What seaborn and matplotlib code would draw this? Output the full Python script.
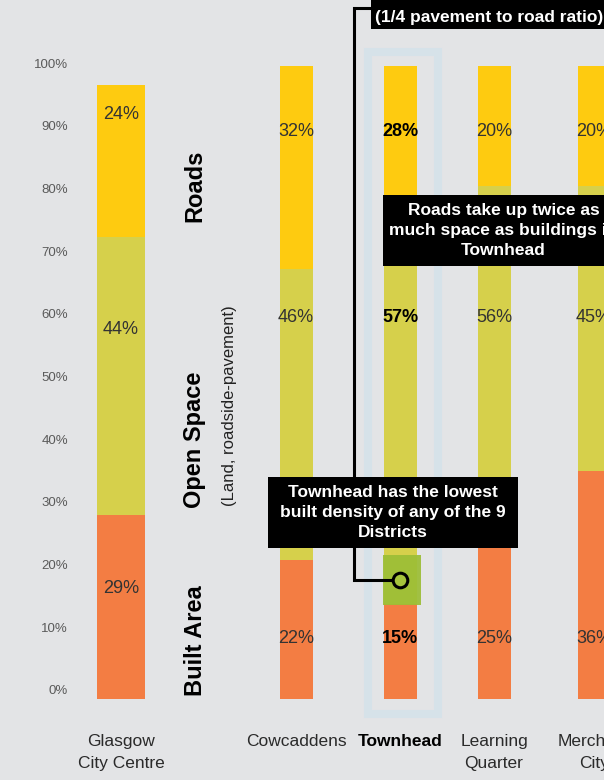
import numpy as np
import pandas as pd
import matplotlib.pyplot as plt
import seaborn as sns
from matplotlib.patches import Rectangle

# Data (share of land, %)
districts = ['Glasgow\nCity Centre', 'Cowcaddens', 'Townhead', 'Learning\nQuarter', 'Merchant\nCity']
built = [29, 22, 15, 25, 36]
open_space = [44, 46, 57, 56, 45]
roads = [24, 32, 28, 20, 20]
tick_values = [0, 10, 20, 30, 40, 50, 60, 70, 80, 90, 100]

layer_names = ['Built Area', 'Open Space', 'Roads']
layer_note = '(Land, roadside-pavement)'
note_lowest = 'Townhead has the lowest\nbuilt density of any of the 9\nDistricts'
note_roads = 'Roads take up twice as\nmuch space as buildings in\nTownhead'
note_ratio = '(1/4 pavement to road ratio)'
highlight = 'Townhead'

# Layout (x in units of 100 px, Glasgow at 0)
x_pos = [0, 1.75, 2.79, 3.73, 4.73]
bar_width = [0.48, 0.33, 0.33, 0.33, 0.33]
label_rows = [(17.5, 58.3, 92.3)] + [(9.6, 60.2, 89.7)] * 4

BG = '#e3e4e6'
C_ROAD = '#fecb10'
C_OPEN = '#d6d04b'
C_BUILT = '#f37d43'

sns.set_theme(style='white')
plt.rcParams['font.family'] = ['Liberation Sans', 'DejaVu Sans']

df = pd.DataFrame({'district': districts, 'x': x_pos, 'built': built,
                   'open': open_space, 'roads': roads})
df['top_open'] = df['built'] + df['open']
df['top_roads'] = df['top_open'] + df['roads']

fig = plt.figure(figsize=(6.04, 7.8), dpi=100)
fig.patch.set_facecolor(BG)
ax = fig.add_axes([0, 81 / 780, 1, 633 / 780])
ax.set_facecolor(BG)

# Townhead frame
th = districts.index(highlight)
ax.add_patch(Rectangle((x_pos[th] - 0.325, -2.37), 0.70, 104.6, fill=False,
                       ec='#d6e2e9', lw=5.8, zorder=0.5, clip_on=False))

# stacked bars: cumulative tops drawn first, then overlaid
groups = [df.iloc[[0]], df.iloc[1:]]
for g in groups:
    w = bar_width[g.index[0]]
    native = np.min(np.diff(g['x'])) if len(g) > 1 else 1
    for col, c in [('top_roads', C_ROAD), ('top_open', C_OPEN), ('built', C_BUILT)]:
        sns.barplot(data=g, x='x', y=col, native_scale=True, width=w / native,
                    color=c, saturation=1, errorbar=None, linewidth=0, ax=ax,
                    zorder=2)

# segment percentages
for i, row in df.iterrows():
    bold = row['district'] == highlight
    for val, y in zip([row['built'], row['open'], row['roads']], label_rows[i]):
        ax.text(row['x'], y, f'{val}%', ha='center', va='center', fontsize=13,
                color='black' if bold else '#333333',
                fontweight='bold' if bold else 'normal', zorder=5)

# category labels
for i, name in enumerate(districts):
    bold = name == highlight
    ax.text(x_pos[i], -5.6, name, ha='center', va='top', fontsize=12.5,
            linespacing=1.55, color='black' if bold else '#2a2a2a',
            fontweight='bold' if bold else 'normal')

# y tick labels
for v in tick_values:
    ax.text(-0.53, v * 0.99 + 1.2, f'{v}%', ha='right', va='center', fontsize=9.5,
            color='#5a5a5a')

# rotated layer names
for name, y in zip(layer_names, [9.2, 40.9, 81.0]):
    ax.text(0.74, y, name, rotation=90, ha='center', va='center',
            fontsize=17, fontweight='bold', color='black')
ax.text(1.08, 46.4, layer_note, rotation=90, ha='center', va='center',
        fontsize=12, color='#222222')

# highlight of Townhead built area + connector
ax.add_patch(Rectangle((x_pos[th] - 0.17, 14.85), 0.38, 7.9, fc='#9cbe36',
                       alpha=0.93, lw=0, zorder=3))
ax.plot([2.50, 2.33, 2.33, 2.72], [109.2, 109.2, 18.8, 18.8], color='black',
        lw=2.2, clip_on=False, zorder=4, solid_joinstyle='miter')
ax.plot([x_pos[th]], [18.8], marker='o', ms=10.5, mfc='#a6c43c', mec='black',
        mew=2.2, zorder=6, clip_on=False)

# black callouts
ax.add_patch(Rectangle((1.47, 23.85), 2.5, 11.2, fc='black', lw=0, zorder=7))
ax.text(2.72, 29.5, note_lowest, ha='center', va='center', fontsize=12.5,
        fontweight='bold', color='white', linespacing=1.4, zorder=8)

ax.add_patch(Rectangle((2.62, 68.4), 3.0, 11.2, fc='black', lw=0, zorder=7,
                       clip_on=False))
ax.text(3.825, 74.0, note_roads, ha='center', va='center', fontsize=12.5,
        fontweight='bold', color='white', linespacing=1.4, zorder=8)

ax.add_patch(Rectangle((2.50, 105.8), 3.0, 15, fc='black', lw=0, zorder=7,
                       clip_on=False))
ax.text(3.685, 107.7, note_ratio, ha='center', va='center', fontsize=12.5,
        fontweight='bold', color='white', zorder=8)

ax.set_xlim(-1.21, 4.83)
ax.set_ylim(0, 100)
ax.set_xlabel('')
ax.set_ylabel('')
ax.set_xticks([])
ax.set_yticks([])
sns.despine(ax=ax, left=True, bottom=True)

fig.savefig('out.png', dpi=100, facecolor=BG)
